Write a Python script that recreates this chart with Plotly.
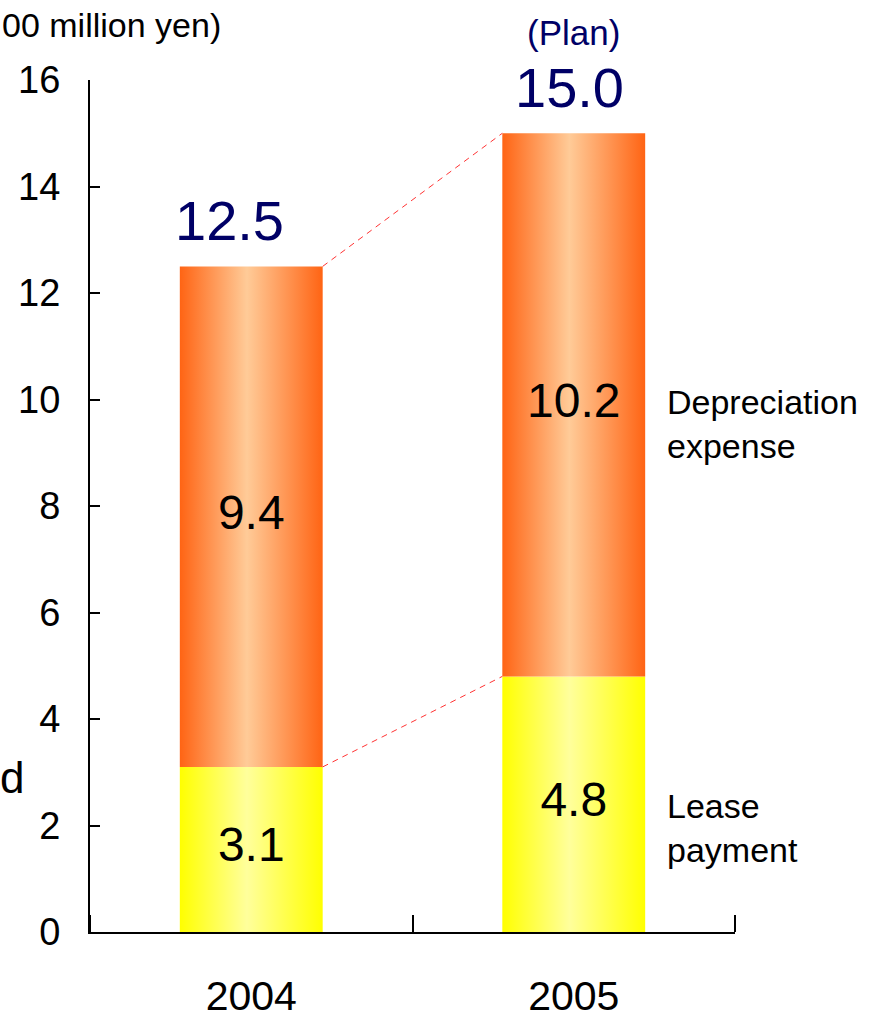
import plotly.graph_objects as go

# ---- data ----
years = ["2004", "2005"]
lease_payment = [3.1, 4.8]
depreciation = [9.4, 10.2]
totals = [12.5, 15.0]
total_notes = ["", "(Plan)"]
series_labels = ["Lease payment", "Depreciation expense"]
y_ticks = [0, 2, 4, 6, 8, 10, 12, 14, 16]
unit_label = "00 million yen)"
side_fragment = "d"

# ---- styles ----
NUM = "Liberation Sans, Arial, sans-serif"
REG = "Liberation Sans, Arial, sans-serif"
NAVY = "#000066"
BAR_W = 0.443
ORANGE_CS = [[0, "#FF6414"], [0.47, "#FFCB98"], [1, "#FF6414"]]
YELLOW_CS = [[0, "#FFFF00"], [0.47, "#FFFF9C"], [1, "#FFFF00"]]

fig = go.Figure()

for i, yr in enumerate(years):
    segs = [(0.0, lease_payment[i], YELLOW_CS),
            (lease_payment[i], depreciation[i], ORANGE_CS)]
    x0, x1 = i - BAR_W / 2, i + BAR_W / 2
    for base, val, cs in segs:
        top = base + val
        fig.add_trace(go.Scatter(
            x=[x0, x1, x1, x0, x0], y=[base, base, top, top, base],
            mode="lines", line=dict(width=0), fill="toself",
            fillgradient=dict(type="horizontal", colorscale=cs, start=x0, stop=x1),
            hoverinfo="skip", showlegend=False))
        fig.add_trace(go.Scatter(
            x=[i], y=[base + val / 2], mode="text", text=[f"{val:.1f}"],
            textfont=dict(family=NUM, size=48, color="black"),
            hoverinfo="skip", showlegend=False))

# dashed connector lines between bars
for seg_top in [totals, lease_payment]:
    fig.add_trace(go.Scatter(
        x=[0 + BAR_W / 2, 1 - BAR_W / 2], y=[seg_top[0], seg_top[1]],
        mode="lines", line=dict(color="#FF3333", width=1, dash="6px,5px"),
        hoverinfo="skip", showlegend=False))

# totals
TOTAL_XSHIFT = [-22, -4]
for i, t in enumerate(totals):
    fig.add_annotation(x=i, y=t, text=f"{t:.1f}", showarrow=False,
                       xshift=TOTAL_XSHIFT[i], yshift=46, yanchor="middle",
                       font=dict(family=NUM, size=56, color=NAVY))
    if total_notes[i]:
        fig.add_annotation(x=i, y=t, text=total_notes[i], showarrow=False,
                           yshift=101, yanchor="middle",
                           font=dict(family=REG, size=35, color=NAVY))

# series labels on the right
label_y = [1.95, 9.54]
for name, ly in zip(series_labels, label_y):
    fig.add_annotation(xref="paper", x=0.8915, y=ly, yref="y",
                       text=name.replace(" ", "<br>"), showarrow=False,
                       xanchor="left", yanchor="middle", align="left",
                       font=dict(family=REG, size=34, color="black"))

# unit label and text fragment at the left edge
fig.add_annotation(xref="paper", yref="paper", x=-90 / 645, y=1 + 55 / 852,
                   text=unit_label, showarrow=False, xanchor="left", yanchor="middle",
                   font=dict(family=REG, size=34, color="black"))
fig.add_annotation(xref="paper", yref="y", x=-92 / 645, y=2.9,
                   text=side_fragment, showarrow=False, xanchor="left", yanchor="middle",
                   font=dict(family=REG, size=44, color="black"))

fig.update_layout(
    width=879, height=1019,
    margin=dict(l=90, r=144, t=80, b=87, autoexpand=False),
    paper_bgcolor="white", plot_bgcolor="white",
    showlegend=False,
    xaxis=dict(range=[-0.5, 1.5], tickmode="array", tickvals=[0, 1], ticktext=years,
               ticks="", showline=True, linecolor="black", linewidth=2, automargin=False,
               showgrid=False, zeroline=False, ticklabelstandoff=27,
               tickfont=dict(family=NUM, size=41, color="black"),
               minor=dict(tickmode="array", tickvals=[-0.5, 0.5, 1.5], ticks="inside",
                          ticklen=17, tickwidth=2, tickcolor="black", showgrid=False)),
    yaxis=dict(range=[0, 16], tickmode="array", tickvals=y_ticks,
               ticks="inside", ticklen=10, tickwidth=2, tickcolor="black",
               showline=True, linecolor="black", linewidth=2, automargin=False,
               showgrid=False, zeroline=False, ticklabelstandoff=20,
               tickfont=dict(family=NUM, size=38, color="black")),
)

fig.write_html("out.html",
               config={"displayModeBar": False},
               post_script="document.body.style.margin='0';")
